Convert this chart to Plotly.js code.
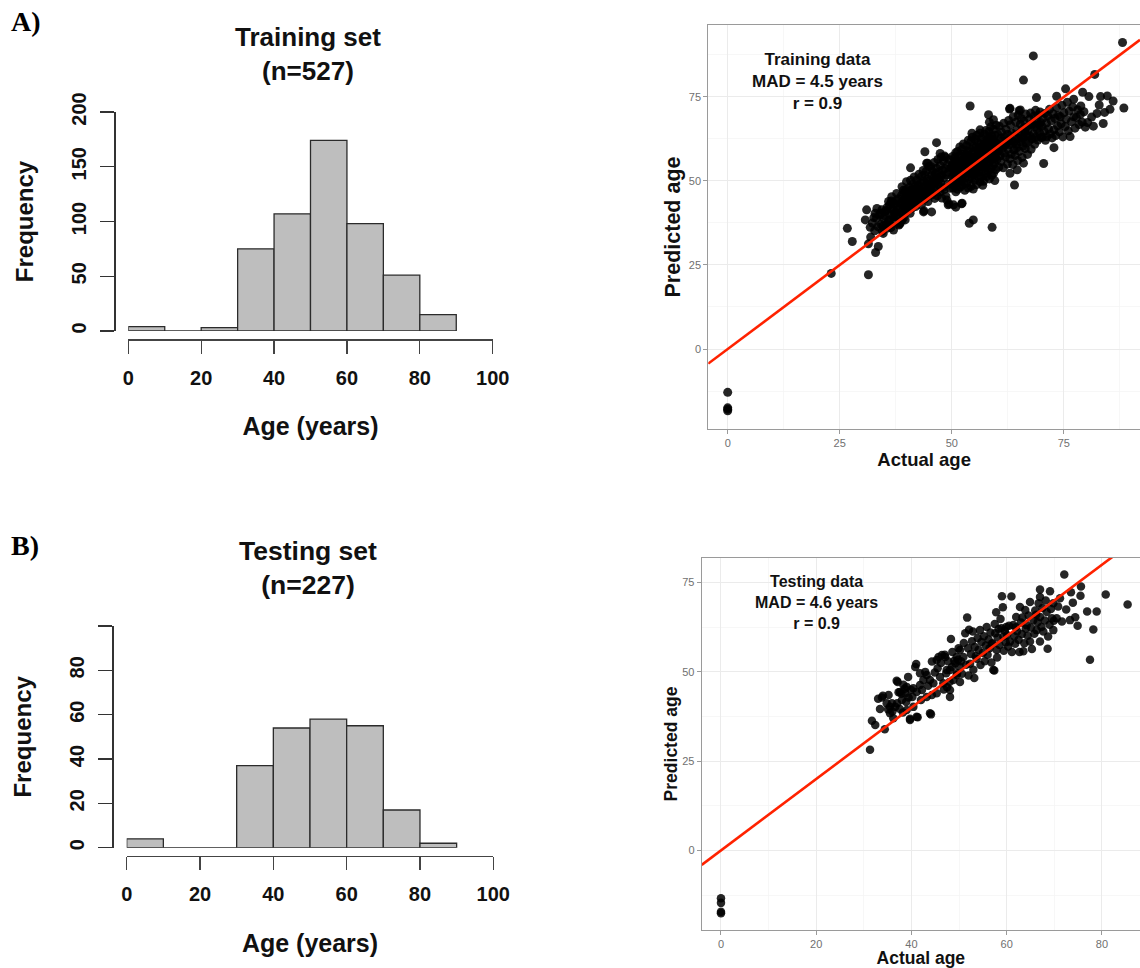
<!DOCTYPE html>
<html><head><meta charset="utf-8">
<script src="https://cdn.plot.ly/plotly-3.0.1.min.js"></script>
<style>html,body{margin:0;padding:0;background:#fff}#chart{width:1140px;height:968px}</style>
</head><body><div id="chart"></div><script>
// ---------- data ----------
const binStarts = [0, 10, 20, 30, 40, 50, 60, 70, 80];
const binWidth = 10;
const trainCounts = [4, 0, 3, 75, 107, 174, 98, 51, 15];
const testCounts = [4, 0, 0, 37, 54, 58, 55, 17, 2];
const histXTicks = [0, 20, 40, 60, 80, 100];
const trainYTicks = [0, 50, 100, 150, 200];
const testYTicks = [0, 20, 40, 60, 80, 100];
const testYTickText = ['0', '20', '40', '60', '80', ''];
const trainTitle = 'Training set<br>(n=527)';
const testTitle = 'Testing set<br>(n=227)';
const trainStats = 'Training data<br>MAD = 4.5 years<br>r = 0.9';
const testStats = 'Testing data<br>MAD = 4.6 years<br>r = 0.9';
const fitSlope = 1, fitIntercept = 0;

const trainPoints = [
[0,-12.9],[0,-17.5],[0,-17.9],[0,-18.4],
[23.1,22.5],[26.7,35.9],[27.8,32.0],
[31.4,22.1],[33.0,28.7],[33.6,30.5],[31.4,31.3],[31.9,33.3],[31.0,41.4],[30.7,38.4],[32.9,40.4],[34.4,41.4],[31.8,36.2],
[32.3,37.5],[32.8,35.2],[33.2,38.9],[33.5,36.4],[33.9,39.8],[34.2,37.1],[34.5,35.0],[34.7,34.4],[34.9,38.6],[35.1,40.9],
[35.3,36.8],[35.5,35.9],[35.6,42.2],[35.9,43.9],[36.0,38.2],[36.2,40.1],[36.3,37.0],[36.5,44.0],[36.6,45.3],[36.8,41.5],
[36.9,39.3],[37.0,35.4],[37.2,43.1],[37.4,38.0],[37.5,40.6],[37.7,46.3],[37.8,42.5],[38.0,39.5],[38.1,44.7],[38.3,37.2],
[38.4,41.9],[38.5,37.4],[38.6,43.4],[38.8,45.8],[38.9,48.3],[39.0,40.2],[39.1,42.7],[39.2,39.0],[39.3,44.2],[39.4,46.6],
[39.5,41.3],[39.6,38.4],[39.7,43.8],[39.8,47.4],[39.9,49.8],[39.9,40.9],[39.9,45.1],[37.1,41.0],[36.1,42.9],[35.0,39.6],
[34.0,40.3],[33.3,41.8],[32.6,39.1],[38.2,36.9],[36.4,36.1],[37.6,44.1],[38.7,40.7],[39.5,44.9],[35.8,37.8],[34.6,36.6],
[36.7,43.6],[38.9,38.3],[37.3,39.4],[35.4,41.2],[39.2,47.2],
[40.7,40.4],[43.7,40.8],[45.5,40.8],[43.8,41.1],[44.0,58.7],[44.4,55.3],[46.6,61.4],[47.4,58.2],[48.9,44.3],[49.2,42.9],
[40.8,53.9],[44.6,55.3],[48.4,57.4],[49.4,43.2],
[40.1,43.2],[40.2,46.8],[40.3,41.7],[40.4,44.9],[40.5,48.1],[40.6,42.6],[40.7,45.7],[40.8,50.2],[40.9,43.9],[41.0,47.3],
[41.1,41.9],[41.2,44.4],[41.3,49.0],[41.4,46.1],[41.5,43.0],[41.6,51.2],[41.7,45.3],[41.8,48.3],[41.9,42.4],[42.0,47.6],
[42.1,44.8],[42.2,50.3],[42.3,46.5],[42.4,43.6],[42.5,48.9],[42.6,45.2],[42.7,52.0],[42.8,47.1],[42.9,44.1],[43.0,49.5],
[43.1,46.0],[43.2,42.8],[43.3,51.4],[43.4,48.0],[43.5,45.4],[43.6,53.1],[43.7,47.0],[43.8,49.9],[43.9,44.6],[44.0,51.8],
[44.1,47.7],[44.2,45.0],[44.3,52.9],[44.4,49.2],[44.5,46.3],[44.6,50.6],[44.7,43.9],[44.8,48.5],[44.9,54.3],[45.0,46.9],
[45.1,50.0],[45.2,47.6],[45.3,54.3],[45.4,45.8],[45.5,51.7],[45.6,49.1],[45.7,53.0],[45.8,46.4],[45.9,50.8],[46.0,48.6],
[46.1,55.5],[46.2,44.8],[46.3,52.2],[46.4,49.7],[46.5,47.3],[46.6,53.8],[46.7,51.0],[46.8,45.6],[46.9,56.4],[47.0,48.9],
[47.1,52.7],[47.2,50.4],[47.3,46.7],[47.4,54.6],[47.5,49.5],[47.6,57.1],[47.7,51.6],[47.8,44.9],[47.9,53.2],[48.0,48.0],
[48.1,55.9],[48.2,50.9],[48.3,47.4],[48.5,53.7],[48.6,57.0],[48.7,45.5],[48.8,51.8],
[49.0,54.8],[49.1,49.0],[49.3,52.6],[49.5,56.3],[49.6,47.8],[49.8,53.9],
[54.1,72.3],[52.2,43.2],[50.9,42.2],[54.8,38.4],[53.9,37.4],[59.0,36.2],[50.4,42.9],[52.3,43.4],[58.2,69.7],[59.3,68.2],
[56.3,65.2],[54.5,64.2],
[50.0,49.1],[50.1,54.6],[50.1,51.2],[50.2,57.3],[50.3,47.9],[50.3,53.5],[50.4,50.4],[50.5,55.8],[50.5,52.1],[50.6,48.6],
[50.7,56.9],[50.7,53.9],[50.8,50.9],[50.9,58.4],[50.9,46.8],[50.9,54.2],
[51.0,52.7],[51.1,49.6],[51.1,56.1],[51.2,54.0],[51.3,47.5],[51.3,58.8],[51.4,51.4],[51.5,55.2],[51.5,53.0],[51.6,49.9],
[51.7,57.6],[51.7,52.4],[51.8,60.1],[51.9,48.2],[51.9,55.7],[51.9,51.1],
[52.0,54.5],[52.1,50.3],[52.1,57.0],[52.2,52.8],[52.3,59.4],[52.3,48.7],[52.4,55.9],[52.5,51.7],[52.5,53.6],[52.6,61.0],
[52.7,49.5],[52.7,56.6],[52.8,54.1],[52.9,47.2],[52.9,58.1],[52.9,52.3],
[53.0,55.3],[53.1,51.0],[53.1,57.7],[53.2,53.4],[53.3,60.5],[53.3,49.3],[53.4,56.2],[53.5,52.6],[53.5,58.9],[53.6,54.7],
[53.7,47.9],[53.7,62.1],[53.8,55.6],[53.9,50.6],[53.9,57.3],[53.9,53.1],
[54.0,56.0],[54.1,52.2],[54.1,59.6],[54.2,54.5],[54.3,48.4],[54.3,61.8],[54.4,57.1],[54.5,50.9],[54.5,55.4],[54.6,63.0],
[54.7,53.0],[54.7,58.5],[54.8,47.6],[54.9,56.6],[54.9,60.3],[54.9,51.8],
[55.0,54.0],[55.1,58.7],[55.1,50.2],[55.2,62.4],[55.3,56.3],[55.3,52.7],[55.4,60.0],[55.5,55.1],[55.5,48.9],[55.6,63.6],
[55.7,57.5],[55.7,53.6],[55.8,59.2],[55.9,51.4],[55.9,56.8],[55.9,61.3],
[56.0,55.7],[56.1,52.5],[56.1,59.9],[56.2,57.1],[56.3,49.8],[56.3,64.2],[56.4,54.3],[56.5,61.6],[56.5,58.0],[56.6,51.2],
[56.7,56.2],[56.7,62.8],[56.8,53.5],[56.9,59.4],[56.9,48.7],[56.9,57.6],
[57.0,60.5],[57.1,54.8],[57.1,49.9],[57.2,58.3],[57.3,63.9],[57.3,56.0],[57.4,52.1],[57.5,61.2],[57.5,57.4],[57.6,65.0],
[57.7,54.0],[57.7,59.6],[57.8,51.3],[57.9,62.5],[57.9,56.7],[57.9,58.8],
[58.0,55.4],[58.1,61.8],[58.1,52.9],[58.2,59.1],[58.3,64.7],[58.3,57.3],[58.4,50.6],[58.5,62.9],[58.5,55.9],[58.6,60.4],
[58.7,53.7],[58.7,66.1],[58.8,58.2],[58.9,56.5],[58.9,63.4],[58.9,51.7],
[59.0,59.8],[59.1,54.6],[59.1,62.2],[59.2,57.0],[59.3,65.3],[59.3,52.3],[59.4,60.9],[59.5,58.4],[59.5,55.2],[59.6,63.7],
[59.7,56.8],[59.7,61.5],[59.8,53.4],[59.9,66.6],[59.9,59.0],[59.9,57.9],[59.6,50.1],[58.4,67.5],
[62.9,71.4],[65.0,70.9],[63.0,71.6],[65.3,71.1],[64.0,48.8],[63.0,52.3],[64.6,53.3],[66.0,55.3],[66.0,80.0],[68.2,87.2],
[68.9,74.8],
[60.0,61.2],[60.1,56.4],[60.3,63.8],[60.4,58.9],[60.5,54.1],[60.6,66.3],[60.7,60.2],[60.8,57.5],[60.9,62.7],
[61.0,55.8],[61.1,64.6],[61.3,59.7],[61.4,61.9],[61.5,53.9],[61.6,67.2],[61.7,58.3],[61.8,63.1],[61.9,60.6],
[62.0,57.2],[62.1,65.4],[62.3,61.3],[62.4,55.0],[62.5,63.9],[62.6,59.4],[62.7,68.0],[62.8,62.2],[62.9,56.6],
[63.0,60.8],[63.1,66.7],[63.3,58.0],[63.4,64.3],[63.5,62.0],[63.6,54.9],[63.7,69.1],[63.8,61.5],[63.9,59.3],
[64.0,63.4],[64.1,57.6],[64.3,67.5],[64.4,61.0],[64.5,65.2],[64.6,59.9],[64.7,56.1],[64.8,69.6],[64.9,62.6],
[65.0,64.1],[65.1,58.8],[65.3,66.9],[65.4,61.7],[65.5,68.6],[65.6,63.0],[65.7,57.0],[65.8,65.5],[65.9,60.4],
[66.0,62.9],[66.1,67.8],[66.3,64.7],[66.4,59.6],[66.5,69.9],[66.6,61.3],[66.7,66.0],[66.8,63.6],[66.9,57.9],
[67.0,65.0],[67.2,61.8],[67.3,68.4],[67.5,63.3],[67.6,70.2],[67.7,59.4],[67.8,66.6],[67.9,62.5],
[68.0,67.1],[68.2,64.0],[68.3,69.3],[68.5,60.9],[68.6,66.2],[68.7,71.0],[68.8,63.1],[68.9,68.0],
[69.0,65.4],[69.2,62.2],[69.3,69.6],[69.5,66.8],[69.6,64.3],[69.7,70.5],[69.8,67.4],[69.9,63.0],
[70.5,55.2],[72.8,59.9],[73.4,75.2],[75.4,77.4],[79.2,76.4],[77.2,74.3],[78.8,72.3],[79.8,66.0],
[70.1,66.3],[70.2,63.0],[70.4,68.7],[70.6,64.8],[70.8,70.1],[70.9,62.1],[71.1,67.2],[71.2,63.2],[71.4,69.4],[71.6,65.5],
[71.8,71.3],[72.0,64.0],[72.2,67.9],[72.4,62.8],[72.6,70.0],[72.8,65.2],[73.0,68.6],[73.2,63.5],[73.4,71.8],[73.6,66.4],
[73.8,69.5],[74.0,64.6],[74.2,69.1],[74.4,67.0],[74.6,72.5],[74.8,63.1],[75.0,70.3],[75.3,66.2],[75.5,68.4],[75.8,73.4],
[76.0,64.9],[76.2,70.8],[76.4,63.2],[76.7,67.6],[77.0,72.0],[77.2,69.1],[77.5,65.7],[77.8,68.9],[78.1,71.2],[78.4,66.8],
[78.7,69.8],[79.1,67.5],[79.5,70.6],
[88.1,91.2],[81.9,81.7],[88.4,71.7],[85.3,71.3],[83.2,75.1],[84.7,75.3],[80.6,75.1],[82.4,70.1],[83.8,67.1],
[80.3,67.4],[81.2,69.0],[81.6,66.3],[82.9,72.6],[84.1,70.4],[86.0,73.8]
];

const testPoints = [
[0,-13.4],[0,-14.7],[0,-17.2],[0,-17.6],
[31.3,28.2],[31.7,36.3],[32.4,35.1],[33.0,42.5],[33.4,39.6],[33.8,42.8],[34.4,33.9],[34.8,41.2],[35.2,43.5],[35.5,38.4],
[35.5,40.2],[35.9,41.2],[36.2,37.0],[36.6,40.2],[36.9,47.5],[37.0,41.2],[37.1,47.2],[37.3,44.3],[37.6,44.4],[37.9,43.9],
[38.0,42.1],[38.3,46.4],[38.6,45.3],[38.7,44.0],[38.9,41.6],[39.0,39.3],[39.0,45.8],[39.3,48.6],[39.7,36.5],[39.7,36.9],
[36.0,38.9],[34.0,43.3],[38.2,38.6],[39.4,42.8],[37.5,39.7],[35.1,39.5],[39.9,45.0],
[40.2,43.0],[40.4,45.4],[40.4,40.2],[40.8,51.4],[41.0,52.2],[41.1,37.4],[41.1,44.4],[41.3,37.3],[41.8,46.3],[41.8,49.6],
[42.2,44.9],[42.5,47.7],[42.9,50.0],[43.2,49.1],[43.2,43.0],[43.5,46.1],[43.9,47.7],[43.9,38.4],[44.1,38.1],[44.3,52.9],
[44.3,43.5],[44.6,46.8],[44.9,49.8],[45.3,53.3],[45.3,44.0],[45.5,51.0],[45.7,54.2],[46.0,48.6],[46.2,52.5],[46.4,54.7],
[46.7,46.8],[46.8,45.1],[47.0,54.8],[47.1,54.2],[47.3,49.6],[47.4,50.5],[47.7,53.0],[48.0,47.2],[48.1,50.5],[48.1,43.0],
[48.1,44.9],[48.3,59.2],[48.5,51.4],[48.6,55.6],[48.8,47.7],[49.0,53.1],[49.2,52.4],[49.5,49.1],[49.5,54.2],[49.6,49.6],
[49.8,53.4],[49.9,56.6],[47.5,45.7],[42.0,42.1],
[50.1,51.5],[50.2,47.2],[50.2,56.1],[50.4,53.0],[50.6,49.5],[50.9,54.2],[51.0,58.1],[51.3,60.8],[51.5,52.0],[51.7,65.2],
[51.9,56.6],[52.0,49.0],[52.1,61.8],[52.3,52.3],[52.5,55.0],[52.7,58.6],[52.9,61.3],[53.0,50.6],[53.2,48.3],[53.3,57.0],
[53.5,54.4],[53.7,53.7],[53.9,59.5],[54.1,56.2],[54.4,61.7],[54.5,51.9],[54.7,58.4],[55.0,55.3],[55.2,60.0],[55.4,53.0],
[55.6,57.4],[55.8,62.6],[56.0,54.8],[56.2,59.1],[56.4,56.6],[56.6,61.0],[56.8,52.6],[57.0,58.0],[57.2,50.5],[57.4,50.4],
[57.5,63.4],[57.6,60.8],[57.8,66.7],[57.9,56.1],[58.1,59.6],[58.3,62.0],[58.5,57.5],[58.7,64.8],[58.9,62.2],[59.0,71.2],
[59.2,68.1],[59.3,59.9],[59.4,55.9],[59.6,61.5],[59.8,58.3],[59.9,62.6],[58.0,54.0],[56.9,57.9],
[60.1,60.3],[60.3,57.1],[60.5,62.9],[60.7,58.5],[61.0,71.1],[61.1,55.6],[61.4,63.1],[61.6,60.0],[61.8,57.9],[62.0,65.4],
[62.2,61.4],[62.5,59.0],[62.7,55.6],[62.8,68.2],[63.0,63.8],[63.2,60.6],[63.5,55.8],[63.7,58.0],[63.9,67.3],[64.0,62.1],
[64.2,63.1],[64.4,60.1],[64.6,65.8],[64.9,58.5],[64.9,69.6],[65.1,62.4],[65.3,56.4],[65.6,64.5],[65.8,60.7],[66.0,67.2],
[66.3,61.7],[66.5,63.9],[66.7,69.2],[67.0,73.1],[67.0,65.4],[67.0,58.5],[67.0,71.0],[67.3,62.6],[67.5,67.9],[67.7,61.3],
[68.0,64.4],[68.2,70.0],[68.4,66.8],[68.6,56.5],[68.7,59.9],[69.0,63.2],[69.1,72.6],[69.3,67.6],[69.5,65.0],[69.8,69.2],
[69.8,61.7],[69.9,64.3],[63.3,65.2],[61.9,62.5],[66.2,66.0],
[70.5,65.0],[70.8,68.3],[71.2,70.6],[71.6,64.1],[72.1,77.3],[72.5,67.5],[73.3,64.5],[73.5,72.3],[74.4,65.3],[74.9,62.9],
[75.5,71.3],[75.6,73.9],[76.9,66.9],[77.5,53.4],[78.2,61.9],[78.9,66.9],[73.9,69.4],
[80.8,71.7],[85.4,68.9]
];

// ---------- layout helpers (pixel -> paper) ----------
const W = 1140, H = 968;
const px = v => v / W;
const py = v => 1 - v / H;
const SANS = 'Liberation Sans, Arial, Helvetica, sans-serif';
const SERIF = 'Liberation Serif, Times New Roman, serif';

const binCenters = binStarts.map(b => b + binWidth / 2);
const trainXRange = [-4.33, 92.0], trainYRange = [-23.8, 96.4];
const testXRange = [-4.05, 88.0], testYRange = [-22.3, 81.9];

function barTrace(counts, xa, ya) {
  return {type: 'bar', x: binCenters, y: counts, width: binWidth, xaxis: xa, yaxis: ya,
    marker: {color: '#bebebe', line: {color: '#2b2b2b', width: 1.3}}, hoverinfo: 'x+y'};
}
function pointTrace(pts, xa, ya, size) {
  return {type: 'scatter', mode: 'markers', x: pts.map(p => p[0]), y: pts.map(p => p[1]),
    xaxis: xa, yaxis: ya, marker: {color: '#000', size: size, opacity: 0.85, line: {width: 0}}};
}
function fitTrace(range, xa, ya) {
  return {type: 'scatter', mode: 'lines', x: range, y: range.map(v => fitSlope * v + fitIntercept),
    xaxis: xa, yaxis: ya, line: {color: '#ff2200', width: 2.6}, hoverinfo: 'skip'};
}

const histX = (domain, pos, title) => ({
  domain: domain, range: [0, 100], anchor: 'free', position: pos,
  showgrid: false, zeroline: false, showline: true, linecolor: '#444', linewidth: 1.3,
  ticks: 'outside', ticklen: 13, tickwidth: 1.3, tickcolor: '#444',
  tickvals: histXTicks, ticklabelstandoff: 7,
  tickfont: {family: SANS, size: 20, weight: 'bold', color: '#111'},
  title: {text: title, standoff: 30, font: {family: SANS, size: 25, weight: 'bold', color: '#111'}},
  fixedrange: true
});
const histY = (domain, pos, range, vals, text, title) => ({
  domain: domain, range: range, anchor: 'free', position: pos,
  showgrid: false, zeroline: false, showline: true, linecolor: '#333', linewidth: 1.3,
  ticks: 'outside', ticklen: 14, tickwidth: 1.3, tickcolor: '#333',
  tickvals: vals, ticktext: text, tickangle: -90, ticklabelstandoff: 6,
  tickfont: {family: SANS, size: 20, weight: 'bold', color: '#111'},
  title: {text: title, standoff: 26, font: {family: SANS, size: 24, weight: 'bold', color: '#111'}},
  fixedrange: true
});
const scatAxis = (domain, anchor, range, dtick, minor, title, tsize, standoff) => ({
  domain: domain, anchor: anchor, range: range, tick0: 0, dtick: dtick,
  showline: true, mirror: true, linecolor: '#9a9a9a', linewidth: 1,
  ticks: 'outside', ticklen: 4, tickwidth: 1, tickcolor: '#9a9a9a',
  tickfont: {family: SANS, size: 11, color: '#707070'},
  showgrid: true, gridcolor: '#ebebeb', gridwidth: 1, zeroline: false,
  minor: {dtick: minor, tick0: 0, showgrid: true, gridcolor: '#f4f4f4', gridwidth: 0.7, ticks: ''},
  title: {text: title, standoff: standoff, font: {family: SANS, size: tsize, weight: 'bold', color: '#111'}},
  fixedrange: true
});

const data = [
  barTrace(trainCounts, 'x', 'y'),
  barTrace(testCounts, 'x2', 'y2'),
  pointTrace(trainPoints, 'x3', 'y3', 9),
  fitTrace(trainXRange, 'x3', 'y3'),
  pointTrace(testPoints, 'x4', 'y4', 8.5),
  fitTrace(testXRange, 'x4', 'y4')
];

const layout = {
  width: W, height: H, margin: {l: 0, r: 0, t: 0, b: 0},
  paper_bgcolor: '#fff', plot_bgcolor: 'rgba(0,0,0,0)', showlegend: false, bargap: 0,
  xaxis: histX([px(128.3), px(492.7)], py(339.3), 'Age (years)'),
  yaxis: histY([py(331), py(112)], px(114.3), [0, 200], trainYTicks, trainYTicks.map(String), 'Frequency'),
  xaxis2: histX([px(126.7), px(493.3)], py(856), 'Age (years)'),
  yaxis2: histY([py(847.7), py(626)], px(112.3), [0, 100], testYTicks, testYTickText, 'Frequency'),
  xaxis3: scatAxis([px(708.3), 1], 'y3', trainXRange, 25, 12.5, 'Actual age', 18.5, 3),
  yaxis3: scatAxis([py(429), py(25)], 'x3', trainYRange, 25, 12.5, 'Predicted age', 21.5, 2),
  xaxis4: scatAxis([px(701.7), 1], 'y4', testXRange, 20, 10, 'Actual age', 17.5, 3),
  yaxis4: scatAxis([py(930), py(558)], 'x4', testYRange, 25, 12.5, 'Predicted age', 17.5, 0),
  annotations: [
    {text: 'A)', xref: 'paper', yref: 'paper', x: px(9), y: py(22), xanchor: 'left', yanchor: 'middle', showarrow: false,
     font: {family: SERIF, size: 28, weight: 'bold', color: '#000'}},
    {text: 'B)', xref: 'paper', yref: 'paper', x: px(9), y: py(545), xanchor: 'left', yanchor: 'middle', showarrow: false,
     font: {family: SERIF, size: 28, weight: 'bold', color: '#000'}},
    {text: trainTitle, xref: 'paper', yref: 'paper', x: px(308), y: py(53.5), xanchor: 'center', yanchor: 'middle', showarrow: false,
     font: {family: SANS, size: 26, weight: 'bold', color: '#111'}},
    {text: testTitle, xref: 'paper', yref: 'paper', x: px(308), y: py(567.5), xanchor: 'center', yanchor: 'middle', showarrow: false,
     font: {family: SANS, size: 26.5, weight: 'bold', color: '#111'}},
    {text: trainStats, xref: 'x3', yref: 'y3', x: 20, y: 79.5, xanchor: 'center', yanchor: 'middle', showarrow: false,
     font: {family: SANS, size: 17, weight: 'bold', color: '#111'}},
    {text: testStats, xref: 'x4', yref: 'y4', x: 20.1, y: 69.5, xanchor: 'center', yanchor: 'middle', showarrow: false,
     font: {family: SANS, size: 16, weight: 'bold', color: '#111'}}
  ]
};

Plotly.newPlot('chart', data, layout, {displayModeBar: false, staticPlot: true});
</script></body></html>
